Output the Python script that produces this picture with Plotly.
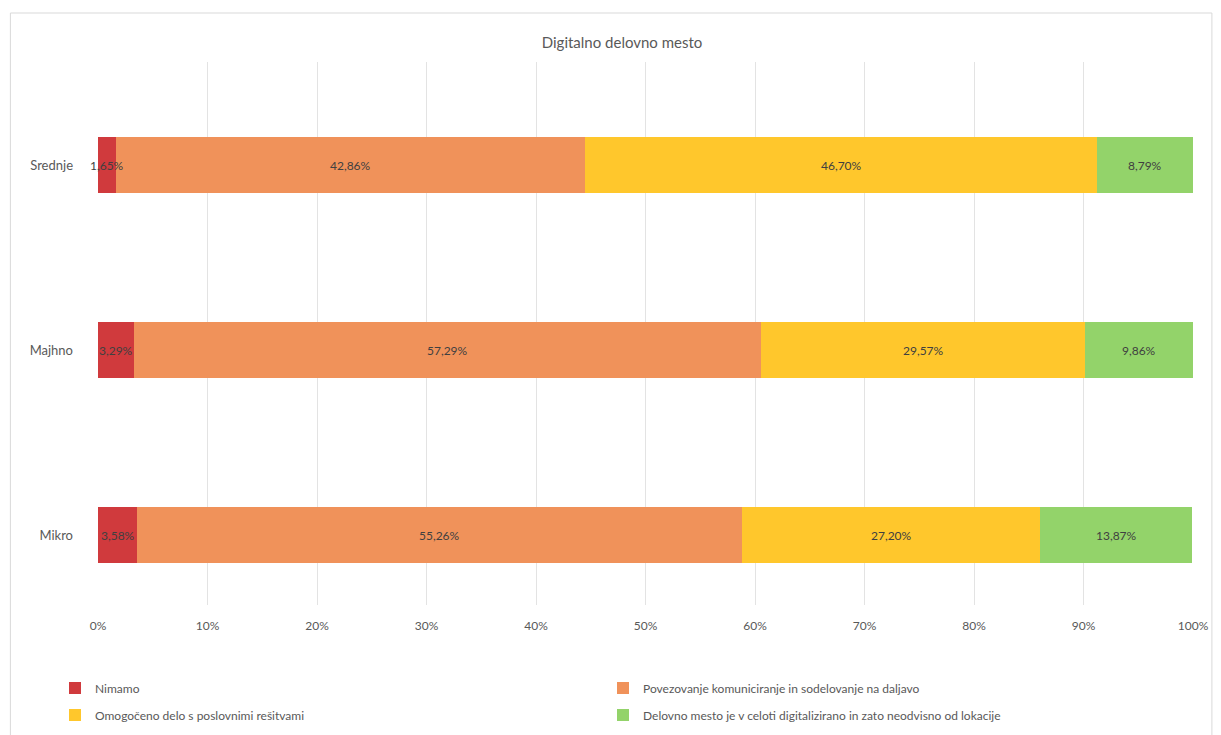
import plotly.graph_objects as go

# Company size categories (bottom to top)
categories = ["Mikro", "Majhno", "Srednje"]

# Share of companies per answer, in percent
nimamo = [3.58, 3.29, 1.65]
povezovanje = [55.26, 57.29, 42.86]
omogoceno = [27.20, 29.57, 46.70]
delovno_mesto = [13.87, 9.86, 8.79]

series_names = [
    "Nimamo",
    "Povezovanje komuniciranje in sodelovanje na daljavo",
    "Omogočeno delo s poslovnimi rešitvami",
    "Delovno mesto je v celoti digitalizirano in zato neodvisno od lokacije",
]
series_values = [nimamo, povezovanje, omogoceno, delovno_mesto]
series_colors = ["#D03A3D", "#F0925A", "#FFC72C", "#93D36A"]

# one legend box per entry, laid out as a 2 x 2 grid (left/right, upper/lower)
legend_ids = ["legend", "legend2", "legend3", "legend4"]
legend_x = [55, 603, 55, 603]
legend_y = [688, 688, 715, 715]

x_ticks = list(range(0, 101, 10))

FONT = "Lato, 'Open Sans', sans-serif"
GREY = "#595959"
W, H = 1221, 735

fig = go.Figure()
for name, vals, col, lg in zip(series_names, series_values, series_colors, legend_ids):
    fig.add_trace(go.Bar(
        y=categories,
        x=vals,
        name=name,
        orientation="h",
        marker=dict(color=col, line=dict(width=0)),
        width=0.30,
        textposition="none",
        hoverinfo="skip",
        legend=lg,
    ))

# value labels centred on each segment
for ci, cat in enumerate(categories):
    start = 0.0
    for vals in series_values:
        v = vals[ci]
        fig.add_annotation(
            x=start + v / 2, y=cat, xref="x", yref="y",
            text=f"{v:.2f}%".replace(".", ","),
            showarrow=False,
            font=dict(family=FONT, size=12, color="#404040"),
        )
        start += v

legend_layout = {}
for lg, lx, ly in zip(legend_ids, legend_x, legend_y):
    legend_layout[lg] = dict(
        orientation="h",
        xref="container", yref="container",
        x=lx / W, xanchor="left",
        y=1 - ly / H, yanchor="middle",
        itemwidth=30,
        font=dict(family=FONT, size=12, color=GREY),
        bgcolor="rgba(0,0,0,0)",
    )

fig.update_layout(
    barmode="stack",
    width=W,
    height=H,
    paper_bgcolor="white",
    plot_bgcolor="white",
    margin=dict(l=98, r=23, t=62, b=130),
    font=dict(family=FONT, size=12, color=GREY),
    title=dict(
        text="Digitalno delovno mesto",
        x=622 / W, xref="container", xanchor="center",
        y=1 - 43 / H, yref="container", yanchor="middle",
        font=dict(family=FONT, size=15, color=GREY),
    ),
    xaxis=dict(
        range=[0, 100],
        tickvals=x_ticks,
        ticktext=[f"{t}%" for t in x_ticks],
        showgrid=True,
        gridcolor="#E3E3E3",
        gridwidth=1,
        zeroline=False,
        showline=False,
        ticks="",
        ticklabelstandoff=12,
        tickfont=dict(family=FONT, size=12, color=GREY),
        fixedrange=True,
    ),
    yaxis=dict(
        range=[-0.378, 2.557],
        showgrid=False,
        zeroline=False,
        showline=False,
        ticks="",
        ticklabelstandoff=24,
        tickfont=dict(family=FONT, size=13, color=GREY),
        fixedrange=True,
    ),
    showlegend=True,
    **legend_layout,
)

# light chart frame
fig.add_shape(
    type="rect", xref="paper", yref="paper",
    x0=(10 - 98) / 1100, x1=(1217 - 98) / 1100,
    y0=(605 - 745) / 543, y1=(605 - 13) / 543,
    line=dict(color="#D9D9D9", width=1),
    fillcolor="rgba(0,0,0,0)",
    layer="below",
)

fig.write_html("out.html")
